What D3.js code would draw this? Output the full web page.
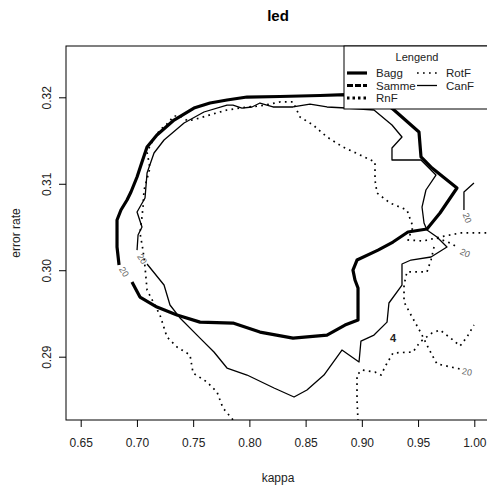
<!DOCTYPE html>
<html>
<head>
<meta charset="utf-8">
<script src="https://cdn.jsdelivr.net/npm/d3@7"></script>
<style>
  html, body { margin: 0; padding: 0; background: #fff; }
  svg { display: block; font-family: "Liberation Sans", Arial, sans-serif; }
</style>
</head>
<body>
<svg id="chart" width="487" height="492"></svg>
<script>
// Level-20 density contours of (kappa, error rate) per ensemble method on "led"
const xTicks = [0.65, 0.70, 0.75, 0.80, 0.85, 0.90, 0.95, 1.00];
const yTicks = [0.29, 0.30, 0.31, 0.32];

const legendNames = ["Bagg", "Samme", "RnF", "RotF", "CanF"];

// Bagg contour (closed, broken where its label sits)
const baggMain = [
  [0.6841, 0.3006], [0.6823, 0.30269], [0.6823, 0.30581], [0.6858, 0.30697],
  [0.6912, 0.30812], [0.6947, 0.30905], [0.7001, 0.31078], [0.7045, 0.31252],
  [0.7090, 0.31425], [0.7178, 0.31564], [0.7330, 0.31737], [0.7507, 0.31876],
  [0.7650, 0.31934], [0.7801, 0.31969], [0.7979, 0.32003], [0.8272, 0.32009],
  [0.8628, 0.32021], [0.8859, 0.3203], [0.9117, 0.32027], [0.9286, 0.31853],
  [0.9508, 0.31599], [0.9526, 0.3131], [0.9624, 0.31182], [0.9846, 0.30951],
  [0.9695, 0.30662], [0.9579, 0.30477], [0.9410, 0.30442], [0.9277, 0.30326],
  [0.9144, 0.30233], [0.8957, 0.30118], [0.8921, 0.30002], [0.8939, 0.29887],
  [0.8966, 0.29794], [0.8966, 0.29424], [0.8850, 0.29366], [0.8690, 0.2925],
  [0.8388, 0.29215], [0.8094, 0.29285], [0.7854, 0.29389], [0.7561, 0.294],
  [0.7356, 0.29482], [0.7178, 0.29574], [0.7027, 0.2969], [0.6956, 0.29863]
];

// CanF contour pieces
const canfMain = [
  [0.7001, 0.30233], [0.7010, 0.30407], [0.7045, 0.305], [0.7001, 0.30673],
  [0.7072, 0.30835], [0.7090, 0.31124], [0.7152, 0.31356], [0.7241, 0.31506],
  [0.7419, 0.31703], [0.7596, 0.3183], [0.7801, 0.3191], [0.7854, 0.3191],
  [0.7934, 0.31876], [0.8023, 0.31888], [0.8094, 0.31934], [0.8210, 0.31888],
  [0.8388, 0.31888], [0.8539, 0.31922], [0.8690, 0.31888], [0.8859, 0.31876],
  [0.9108, 0.31853], [0.9268, 0.3168], [0.9357, 0.31541], [0.9268, 0.31414],
  [0.9268, 0.31275], [0.9526, 0.31275], [0.9659, 0.31101], [0.9570, 0.30928],
  [0.9535, 0.30731], [0.9553, 0.30546], [0.9579, 0.30465], [0.9668, 0.30384],
  [0.9757, 0.30269], [0.9615, 0.30153], [0.9437, 0.30118], [0.9357, 0.30072],
  [0.9357, 0.29829], [0.9241, 0.29621], [0.9224, 0.294], [0.9108, 0.2925],
  [0.8992, 0.29181], [0.8975, 0.28939], [0.8823, 0.29077], [0.8663, 0.28788],
  [0.8512, 0.28615], [0.8397, 0.28534], [0.8219, 0.28638], [0.7979, 0.28788],
  [0.7801, 0.28869], [0.7685, 0.29054], [0.7561, 0.29215], [0.7383, 0.29448],
  [0.7294, 0.29598], [0.7241, 0.29829], [0.7090, 0.30072]
];
const canfSpur = [[0.9997, 0.31009], [0.9908, 0.30905], [0.9908, 0.30697]];

// RotF contour pieces
const rotfMain = [
  [0.7854, 0.2827], [0.7765, 0.28407], [0.7712, 0.28592], [0.7623, 0.28707],
  [0.7499, 0.28811], [0.7472, 0.2902], [0.7356, 0.29112], [0.7267, 0.29228],
  [0.7205, 0.29482], [0.7090, 0.29771], [0.7072, 0.30037], [0.7054, 0.30233],
  [0.7027, 0.30431], [0.7045, 0.30616], [0.7054, 0.30731], [0.7063, 0.30928],
  [0.7116, 0.31182], [0.7090, 0.31367], [0.7152, 0.31529], [0.7205, 0.31622],
  [0.7267, 0.31691], [0.7330, 0.31784], [0.7383, 0.31784], [0.7454, 0.31726],
  [0.7561, 0.31761], [0.7676, 0.31807], [0.7801, 0.31853], [0.7979, 0.31888],
  [0.8094, 0.31899], [0.8272, 0.31946], [0.8388, 0.31946], [0.8450, 0.31772],
  [0.8566, 0.3168], [0.8690, 0.31541], [0.8832, 0.31425], [0.8984, 0.31333],
  [0.9117, 0.31252], [0.9117, 0.31044], [0.9135, 0.30893], [0.9250, 0.30778],
  [0.9401, 0.30697], [0.9455, 0.305], [0.9410, 0.3035], [0.9544, 0.30338],
  [0.9695, 0.30384], [0.9873, 0.30431], [1.0006, 0.30431], [1.0122, 0.30431]
];
const rotfSpur = [[0.9668, 0.30373], [0.9784, 0.30315], [0.9846, 0.30269]];
const rotfRight = [
  [0.9642, 0.30269], [0.9615, 0.30118], [0.9579, 0.2998], [0.9401, 0.2998],
  [0.9375, 0.29829], [0.9375, 0.29633], [0.9437, 0.29482], [0.9526, 0.29274],
  [0.9579, 0.29135], [0.9624, 0.2902], [0.9668, 0.28916], [0.9793, 0.28881],
  [0.9873, 0.28858]
];
const rotfLow = [
  [0.8966, 0.28256], [0.8957, 0.28499], [0.8957, 0.28788], [0.9001, 0.28846],
  [0.9117, 0.28823], [0.9170, 0.28788], [0.9215, 0.28904], [0.9277, 0.29043],
  [0.9455, 0.29054], [0.9517, 0.2917], [0.9624, 0.29274], [0.9695, 0.29309],
  [0.9811, 0.29193], [0.9873, 0.29124], [0.9935, 0.29228], [0.9997, 0.29366]
];

// contour level labels: [kappa, error, text, angle]
const contourLabels = [
  [0.6885, 0.2998, "20", 58],
  [0.7045, 0.3013, "20", 55],
  [0.9935, 0.30604, "20", 70],
  [0.9917, 0.30199, "20", 25],
  [0.9935, 0.28823, "20", 10],
  [0.9277, 0.29215, "4", 0]
];

const svg = d3.select("#chart");
const plot = { left: 66, right: 490, top: 46, bottom: 420 };

const x = d3.scaleLinear().domain([0.65, 1.00]).range([80.7, 474.3]);
const y = d3.scaleLinear().domain([0.29, 0.32]).range([356.7, 97.3]);

svg.append("defs").append("clipPath").attr("id", "plotClip")
  .append("rect")
  .attr("x", plot.left).attr("y", plot.top)
  .attr("width", plot.right - plot.left).attr("height", plot.bottom - plot.top);

const line = d3.line().x(d => x(d[0])).y(d => y(d[1]));
const g = svg.append("g").attr("clip-path", "url(#plotClip)");

const styles = {
  Bagg:  { w: 3.2, dash: null },
  Samme: { w: 3.0, dash: "6,2" },
  RnF:   { w: 3.0, dash: "2.5,3" },
  RotF:  { w: 1.7, dash: "1.7,4.3" },
  CanF:  { w: 1.3, dash: null }
};

function drawPiece(pts, name) {
  const s = styles[name];
  g.append("path")
    .datum(pts)
    .attr("d", line)
    .attr("fill", "none")
    .attr("stroke", "#000")
    .attr("stroke-width", s.w)
    .attr("stroke-linejoin", "round")
    .attr("stroke-dasharray", s.dash);
}

[rotfMain, rotfSpur, rotfRight, rotfLow].forEach(p => drawPiece(p, "RotF"));
[canfMain, canfSpur].forEach(p => drawPiece(p, "CanF"));
drawPiece(baggMain, "Bagg");

contourLabels.forEach(([k, e, t, a]) => {
  g.append("text")
    .attr("transform", `translate(${x(k)},${y(e)}) rotate(${a})`)
    .attr("text-anchor", "middle")
    .attr("dominant-baseline", "central")
    .attr("font-size", t === "4" ? 11 : 9)
    .attr("font-weight", t === "4" ? "bold" : "normal")
    .attr("fill", t === "4" ? "#222" : "#666")
    .text(t);
});

// frame
svg.append("rect")
  .attr("x", plot.left).attr("y", plot.top)
  .attr("width", plot.right - plot.left).attr("height", plot.bottom - plot.top)
  .attr("fill", "none").attr("stroke", "#000").attr("stroke-width", 1);

// axes
const xAxis = d3.axisBottom(x).tickValues(xTicks).tickFormat(d3.format(".2f"))
  .tickSize(7).tickPadding(11);
const gx = svg.append("g").attr("transform", `translate(0,${plot.bottom})`).call(xAxis);
gx.select(".domain").remove();
gx.selectAll("text").attr("font-size", 12).attr("fill", "#222")
  .attr("font-family", "Liberation Sans, Arial, sans-serif");

const yAxis = d3.axisLeft(y).tickValues(yTicks).tickFormat(d3.format(".2f")).tickSize(7);
const gy = svg.append("g").attr("transform", `translate(${plot.left},0)`).call(yAxis);
gy.select(".domain").remove();
gy.selectAll("text")
  .attr("font-size", 12).attr("fill", "#222")
  .attr("font-family", "Liberation Sans, Arial, sans-serif")
  .attr("x", null).attr("dy", "0.35em")
  .attr("text-anchor", "middle")
  .attr("transform", "translate(-19,0) rotate(-90)");

// titles
svg.append("text").attr("x", 278).attr("y", 21).attr("text-anchor", "middle")
  .attr("font-size", 15).attr("font-weight", "bold").text("led");
svg.append("text").attr("x", 278).attr("y", 482).attr("text-anchor", "middle")
  .attr("font-size", 12).attr("fill", "#222").text("kappa");
svg.append("text").attr("transform", "translate(20,233) rotate(-90)")
  .attr("text-anchor", "middle").attr("font-size", 12).attr("fill", "#222").text("error rate");

// legend
const lg = svg.append("g");
lg.append("rect").attr("x", 344).attr("y", 46).attr("width", 150).attr("height", 63)
  .attr("fill", "#fff").attr("stroke", "#000").attr("stroke-width", 1);
lg.append("text").attr("x", 417).attr("y", 61).attr("text-anchor", "middle")
  .attr("font-size", 11).attr("fill", "#222").text("Lengend");

const legendPos = {
  Bagg:  [347, 73], Samme: [347, 85.5], RnF: [347, 98],
  RotF:  [417, 73], CanF:  [417, 85.5]
};
legendNames.forEach(n => {
  const [lx, ly] = legendPos[n];
  const s = styles[n];
  lg.append("line").attr("x1", lx).attr("x2", lx + 20).attr("y1", ly).attr("y2", ly)
    .attr("stroke", "#000").attr("stroke-width", s.w).attr("stroke-dasharray", s.dash);
  lg.append("text").attr("x", lx + 29).attr("y", ly).attr("dy", "0.35em")
    .attr("font-size", 11.5).attr("fill", "#222").text(n);
});
</script>
</body>
</html>
